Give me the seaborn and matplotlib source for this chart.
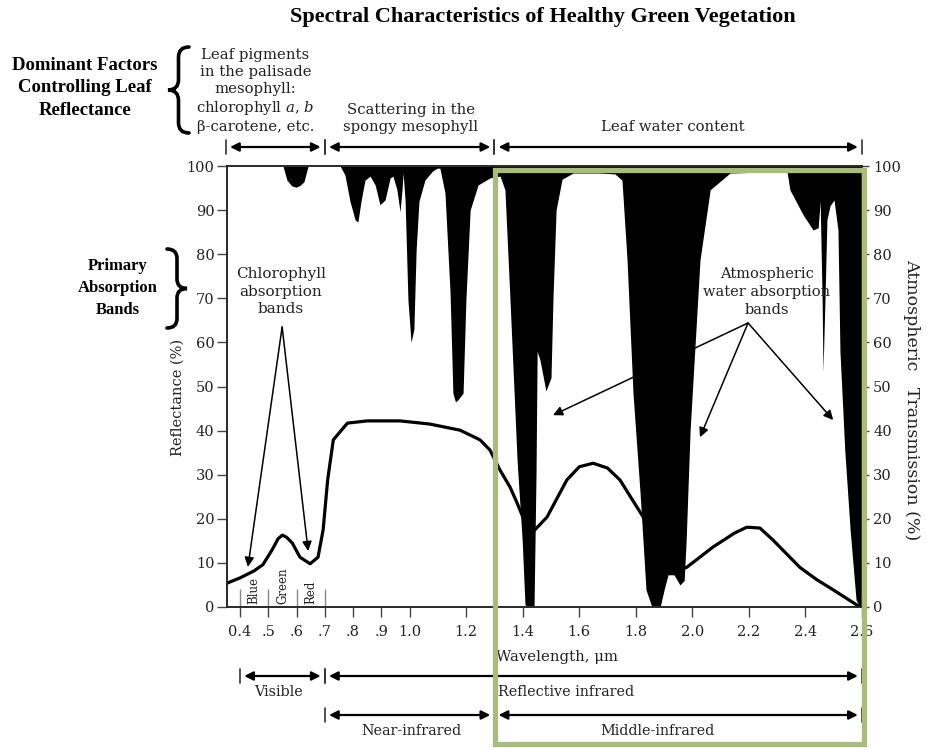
import matplotlib
matplotlib.use("Agg")
import pandas as pd
import matplotlib.pyplot as plt
import seaborn as sns
from matplotlib.patches import Rectangle, PathPatch
from matplotlib.path import Path
from matplotlib.lines import Line2D
from matplotlib.transforms import Affine2D, blended_transform_factory

# leaf reflectance (wavelength in um, reflectance in %)
refl_wl = [0.354, 0.40, 0.45, 0.481, 0.513, 0.535, 0.55, 0.565, 0.585, 0.612, 0.648,
           0.676, 0.694, 0.71, 0.73, 0.78, 0.85, 0.966, 1.07, 1.178, 1.249, 1.284,
           1.32, 1.355, 1.38, 1.415, 1.443, 1.486, 1.556, 1.60, 1.649, 1.70, 1.744,
           1.826, 1.857, 1.886, 1.921, 1.956, 1.98, 2.073, 2.15, 2.193, 2.239, 2.285,
           2.38, 2.44, 2.498, 2.593]
refl_pct = [5.4, 6.6, 8.2, 9.6, 12.9, 15.5, 16.3, 15.8, 14.5, 11.3, 9.8,
            11.3, 17.5, 28.8, 37.9, 41.7, 42.2, 42.2, 41.5, 40.1, 37.9, 35.6,
            31.0, 27.2, 23.6, 18.1, 17.5, 20.4, 28.8, 31.8, 32.6, 31.5, 28.8,
            20.4, 15.0, 10.7, 9.3, 8.4, 9.0, 13.6, 16.8, 18.1, 17.9, 15.2,
            9.0, 6.2, 3.9, 0.0]

# atmospheric transmission (%); everything above it is drawn black
trans_wl = [0.354, 0.552, 0.566, 0.583, 0.598, 0.612, 0.626, 0.641, 0.754, 0.771,
            0.789, 0.807, 0.817, 0.828, 0.842, 0.860, 0.878, 0.895, 0.913, 0.931,
            0.941, 0.955, 0.966, 0.973, 0.977, 0.984, 0.994, 1.005, 1.015, 1.023,
            1.033, 1.054, 1.080, 1.097, 1.107, 1.125, 1.143, 1.153, 1.162, 1.171,
            1.189, 1.199, 1.214, 1.242, 1.284, 1.320, 1.337, 1.355, 1.380, 1.398,
            1.408, 1.420, 1.440, 1.447, 1.451, 1.461, 1.482, 1.500, 1.507, 1.518,
            1.539, 1.578, 1.673, 1.726, 1.751, 1.769, 1.790, 1.815, 1.836, 1.857,
            1.886, 1.900, 1.914, 1.935, 1.956, 1.971, 1.978, 1.992, 2.027, 2.063,
            2.133, 2.239, 2.335, 2.345, 2.392, 2.427, 2.445, 2.452, 2.459, 2.462,
            2.469, 2.476, 2.487, 2.501, 2.515, 2.522, 2.539, 2.558, 2.579, 2.593,
            2.600]
trans_pct = [100, 100, 96.8, 95.5, 95.2, 95.6, 96.4, 100, 100, 98.0,
             92.0, 87.8, 87.3, 92.0, 96.8, 97.7, 95.7, 91.2, 92.3, 97.3,
             97.7, 94.6, 89.6, 94.6, 98.4, 92.0, 69.6, 60.0, 63.0, 81.0,
             92.0, 96.8, 98.8, 99.5, 99.5, 93.9, 71.2, 48.5, 46.5, 47.0,
             48.5, 69.6, 90.0, 95.7, 97.3, 97.7, 94.6, 69.6, 33.3, 15.2,
             0.5, 0.0, 0.0, 30.0, 58.0, 56.0, 49.0, 52.0, 70.0, 90.0,
             97.0, 98.4, 98.4, 98.2, 96.8, 78.7, 48.5, 25.9, 3.9, 0.0,
             0.0, 3.9, 7.3, 7.3, 5.0, 6.0, 15.0, 40.0, 78.7, 94.6,
             98.4, 98.6, 98.6, 94.6, 88.9, 85.5, 86.0, 92.0, 69.6, 53.3,
             69.6, 87.8, 91.0, 92.3, 85.5, 58.0, 35.6, 17.5, 1.6, 0.0,
             0.0]

x_ticks = [0.4, 0.5, 0.6, 0.7, 0.8, 0.9, 1.0, 1.2, 1.4, 1.6, 1.8, 2.0, 2.2, 2.4, 2.6]
x_labels = ["0.4", ".5", ".6", ".7", ".8", ".9", "1.0", "1.2", "1.4", "1.6",
            "1.8", "2.0", "2.2", "2.4", "2.6"]
y_ticks = [0, 10, 20, 30, 40, 50, 60, 70, 80, 90, 100]

band_edges = [0.4, 0.5, 0.6, 0.7]
band_names = ["Blue", "Green", "Red"]

# dominant factors along the top
top_ranges = [(0.35, 0.7), (0.7, 1.3), (1.3, 2.6)]
top_text = ["Leaf pigments\nin the palisade\nmesophyll:\nchlorophyll $\\mathit{a}$, $\\mathit{b}$\nβ-carotene, etc.",
            "Scattering in the\nspongy mesophyll",
            "Leaf water content"]
top_text_x = [0.455, 1.005, 1.93]

# spectral regions along the bottom
bot_ranges = [(0.4, 0.7), (0.7, 2.6), (0.7, 1.3), (1.3, 2.6)]
bot_rows = [0, 0, 1, 1]
bot_text = ["Visible", "Reflective infrared", "Near-infrared", "Middle-infrared"]
bot_text_x = [0.535, 1.555, 1.005, 1.875]

W, H = 926, 748
sns.set_theme(style="ticks")
plt.rcParams["font.family"] = ["DejaVu Serif"]
plt.rcParams["mathtext.fontset"] = "dejavuserif"
ink = "#222222"
bold_font = ["Liberation Serif", "DejaVu Serif"]

fig = plt.figure(figsize=(W / 100, H / 100), dpi=100, facecolor="white")
ax = fig.add_axes([227 / W, 141 / H, 635 / W, 441 / H])
pix = Affine2D().scale(1 / W, -1 / H).translate(0, 1) + fig.transFigure
bt = blended_transform_factory(ax.transData, pix)

ax.fill_between(trans_wl, trans_pct, 100, color="black", lw=0, zorder=2)
df = pd.DataFrame({"wl": refl_wl, "refl": refl_pct})
sns.lineplot(data=df, x="wl", y="refl", ax=ax, color="black", lw=2.3, zorder=3)

ax.set_xlim(0.354, 2.6)
ax.set_ylim(0, 100)
ax.set_xticks(x_ticks)
ax.set_xticklabels(x_labels)
ax.set_yticks(y_ticks)
ax.tick_params(axis="both", direction="out", length=7, width=1, color="#444444",
               labelsize=10.5, labelcolor=ink)
ax.tick_params(axis="y", pad=2)
ax.tick_params(axis="x", pad=6)
ax.set_xlabel("")
ax.set_ylabel("Reflectance (%)", fontsize=10.5, color=ink)
ax.yaxis.set_label_coords(-0.066, 0.476)
for s in ax.spines.values():
    s.set_color("#444444")
    s.set_linewidth(1.2)

ax2 = ax.twinx()
ax2.set_ylim(0, 100)
ax2.set_yticks(y_ticks)
ax2.tick_params(axis="y", direction="out", length=5, width=1, color="#444444",
                labelsize=10.5, labelcolor=ink, pad=3)
ax2.set_ylabel("Atmospheric   Transmission (%)", fontsize=12.5, color=ink,
               rotation=270)
ax2.yaxis.set_label_coords(1.092, 0.47)

# blue / green / red bands
ax.vlines(band_edges, 0, 4, color="#888888", lw=1, zorder=4)
for i, name in enumerate(band_names):
    ax.text((band_edges[i] + band_edges[i + 1]) / 2, 0.6, name, rotation=90,
            ha="center", va="bottom", fontsize=8.5, color=ink, zorder=4)

# chlorophyll absorption annotation
ax.text(0.545, 71.5, "Chlorophyll\nabsorption\nbands", ha="center", va="center",
        fontsize=11, color=ink, linespacing=1.3, zorder=5)
for tip in [(0.428, 9.1), (0.641, 12.7)]:
    ax.annotate("", xy=tip, xytext=(0.549, 63.5),
                arrowprops=dict(arrowstyle="-|>", color="black", lw=1.1,
                                mutation_scale=14, shrinkA=0, shrinkB=0), zorder=5)

# atmospheric water absorption annotation
ax.text(2.264, 71.5, "Atmospheric\nwater absorption\nbands", ha="center", va="center",
        fontsize=10.5, color=ink, linespacing=1.35, zorder=5)
for tip in [(1.507, 43.5), (2.027, 38.5), (2.498, 42.4)]:
    ax.annotate("", xy=tip, xytext=(2.197, 64.4),
                arrowprops=dict(arrowstyle="-|>", color="black", lw=1.1,
                                mutation_scale=14, shrinkA=0, shrinkB=0), zorder=5)


def range_arrow(x0, x1, y):
    ax.annotate("", xy=(x1, y), xycoords=bt, xytext=(x0, y), textcoords=bt,
                arrowprops=dict(arrowstyle="<|-|>", color="black", lw=1.6,
                                mutation_scale=13, shrinkA=3, shrinkB=3),
                annotation_clip=False)
    for xe in (x0, x1):
        fig.add_artist(Line2D([xe, xe], [y - 7, y + 7], transform=bt,
                              color="#333333", lw=1.2))


for (x0, x1), txt, tx in zip(top_ranges, top_text, top_text_x):
    range_arrow(x0, x1, 147)
    fig.text(tx, 134, txt, transform=bt, ha="center", va="bottom", fontsize=10.7,
             color=ink, linespacing=1.27)

for (x0, x1), row, txt, tx in zip(bot_ranges, bot_rows, bot_text, bot_text_x):
    y = 676 + 39 * row
    range_arrow(x0, x1, y)
    fig.text(tx, y + 16, txt, transform=bt, ha="center", va="center", fontsize=10.4,
             color=ink)

fig.text(1.52, 657, "Wavelength, μm", transform=bt, ha="center", va="center",
         fontsize=10.7, color=ink)


def brace(xr, xl, y0, y1):
    # curly brace whose arms sit at xr and whose point sits at xl
    xm = (xr + xl) / 2
    ym = (y0 + y1) / 2
    r = (y1 - y0) * 0.12
    verts = [(xr, y0), (xm, y0), (xm, y0 + r), (xm, ym - r), (xm, ym), (xl, ym),
             (xm, ym), (xm, ym + r), (xm, y1 - r), (xm, y1), (xr, y1)]
    codes = [Path.MOVETO, Path.CURVE3, Path.CURVE3, Path.LINETO, Path.CURVE3,
             Path.CURVE3, Path.CURVE3, Path.CURVE3, Path.LINETO, Path.CURVE3,
             Path.CURVE3]
    fig.add_artist(PathPatch(Path(verts, codes), transform=pix, fill=False,
                             edgecolor="black", lw=2.6, capstyle="round"))


# titles and side notes
fig.text(543, 17, "Spectral Characteristics of Healthy Green Vegetation", transform=pix,
         ha="center", va="center", fontsize=16, fontweight="bold", color="black",
         family=bold_font)
fig.text(85, 88, "Dominant Factors\nControlling Leaf\nReflectance", transform=pix,
         ha="center", va="center", fontsize=13.5, fontweight="bold", color="black",
         linespacing=1.43, family=bold_font)
brace(189, 168, 47, 133)
fig.text(118, 288, "Primary\nAbsorption\nBands", transform=pix, ha="center",
         va="center", fontsize=12, fontweight="bold", color="black", linespacing=1.53,
         family=bold_font)
brace(167, 187, 249, 328)

# highlight frame
fig.add_artist(Rectangle((495, 170), 369, 574, transform=pix, fill=False,
                         edgecolor="#a9bc7b", lw=3.8, zorder=10))

fig.savefig("out.png", dpi=100)
